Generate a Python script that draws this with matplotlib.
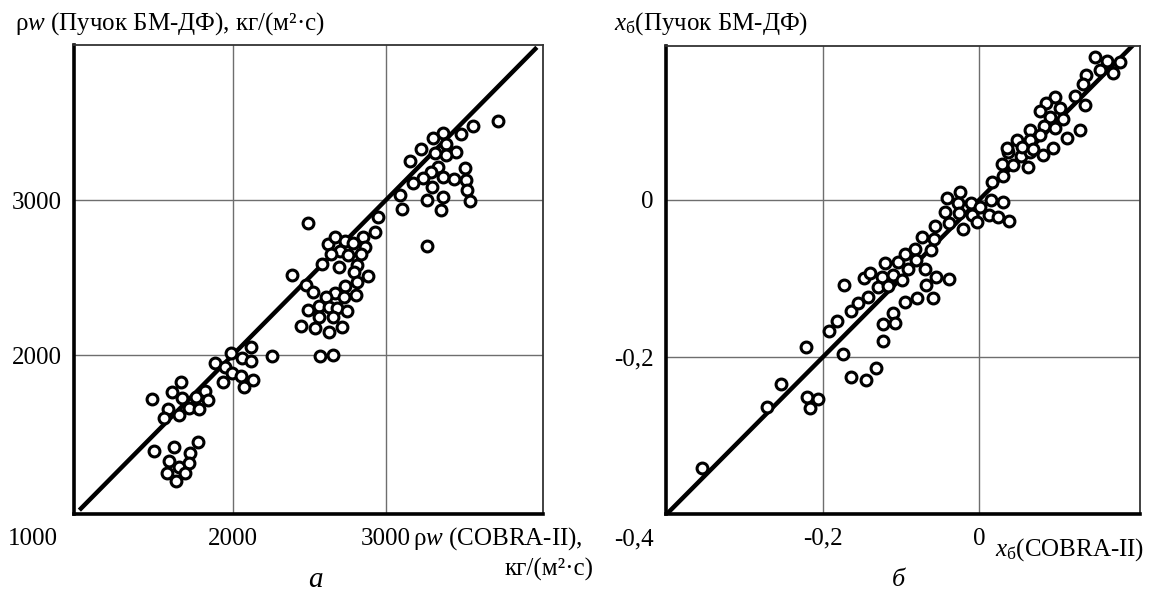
import matplotlib
matplotlib.use('Agg')
import matplotlib.pyplot as plt
import numpy as np

plt.rcParams['font.family'] = ['Liberation Serif', 'DejaVu Serif']
plt.rcParams['mathtext.fontset'] = 'custom'
plt.rcParams['mathtext.rm'] = 'Liberation Serif'
plt.rcParams['mathtext.it'] = 'Liberation Serif:italic'

# panel a: mass flux, kg/(m2 s)
rw_cobra = [1471, 1484, 1606, 1665, 1671, 1581, 1555, 1652, 1716, 1761, 1819, 1781, 1839,
            1619, 1774, 1723, 1587, 1652, 1716, 1574, 1690, 1632, 1884, 1948, 1935, 1987,
            1994, 2058, 2123, 2123, 2052, 2077, 2135, 2258,
            2490, 2387, 2477, 2523, 2581, 2619, 2671, 2735, 2787, 2852, 2865, 2703, 2639,
            2755, 2839, 2813, 2697, 2794, 2813, 2884, 2735, 2671, 2606, 2729, 2806, 2561,
            2626, 2684, 2490, 2748, 2561, 2658, 2445, 2535, 2632, 2716, 2568, 2658, 2929,
            2948, 3103, 3268,
            3729, 3568, 3490, 3374, 3310, 3394, 3458, 3394, 3323, 3232, 3155, 3342, 3516,
            3297, 3239, 3374, 3445, 3523, 3174, 3303, 3529, 3090, 3374, 3271, 3548, 3361]
rw_bundle = [1716, 1381, 1761, 1826, 1723, 1652, 1594, 1613, 1658, 1729, 1768, 1652, 1710,
             1406, 1439, 1368, 1316, 1277, 1303, 1239, 1239, 1187, 1948, 1923, 1826, 2013,
             1884, 1981, 2052, 1961, 1865, 1794, 1839, 1994,
             2852, 2516, 2452, 2406, 2587, 2716, 2761, 2735, 2723, 2761, 2697, 2671, 2652,
             2645, 2652, 2581, 2568, 2535, 2471, 2510, 2445, 2400, 2374, 2374, 2387, 2316,
             2310, 2303, 2290, 2284, 2245, 2245, 2187, 2174, 2148, 2181, 1994, 2000, 2794,
             2890, 2942, 2706,
             3510, 3477, 3426, 3432, 3400, 3361, 3310, 3290, 3303, 3329, 3252, 3213, 3206,
             3181, 3142, 3148, 3135, 3129, 3110, 3084, 3065, 3032, 3019, 3000, 2994, 2935]

# panel b: quality x_b
xb_cobra = [-0.355, -0.272, -0.254, -0.222, -0.221, -0.206, -0.217, -0.192, -0.182, -0.174,
            -0.164, -0.155, -0.164, -0.145, -0.132,
            -0.123, -0.123, -0.110, -0.108, -0.142, -0.095, -0.079, -0.059, -0.173, -0.147,
            -0.140, -0.124, -0.129, -0.117, -0.110, -0.099, -0.121, -0.104, -0.091, -0.095,
            -0.082, -0.081, -0.069, -0.068, -0.055, -0.038, -0.073, -0.058, -0.056, -0.062,
            -0.044, -0.038, -0.041, -0.024, -0.027, -0.026, -0.021, -0.010, -0.009, -0.003,
            0.001, 0.012, 0.015, 0.024, 0.031, 0.038, 0.017, 0.031, 0.029, 0.044, 0.063,
            0.037, 0.053, 0.065,
            0.149, 0.164, 0.181, 0.155, 0.172, 0.137, 0.133, 0.123, 0.135, 0.097, 0.086,
            0.104, 0.078, 0.091, 0.108, 0.083, 0.097, 0.129, 0.112, 0.065, 0.078, 0.065,
            0.049, 0.036, 0.055, 0.069, 0.095, 0.082]
xb_bundle = [-0.341, -0.264, -0.234, -0.187, -0.251, -0.254, -0.265, -0.167, -0.154, -0.196,
             -0.141, -0.131, -0.225, -0.229, -0.214,
             -0.180, -0.158, -0.144, -0.157, -0.124, -0.130, -0.125, -0.125, -0.108, -0.099,
             -0.093, -0.098, -0.111, -0.110, -0.096, -0.102, -0.080, -0.079, -0.088, -0.069,
             -0.062, -0.076, -0.088, -0.108, -0.098, -0.101, -0.047, -0.050, -0.033, -0.064,
             -0.015, -0.029, 0.003, 0.010, -0.004, -0.017, -0.037, -0.004, -0.019, -0.028,
             -0.009, -0.019, 0.000, -0.022, -0.003, -0.027, 0.023, 0.031, 0.046, 0.045, 0.042,
             0.061, 0.056, 0.061,
             0.182, 0.177, 0.176, 0.166, 0.162, 0.159, 0.148, 0.132, 0.121, 0.131, 0.124,
             0.117, 0.113, 0.106, 0.103, 0.094, 0.092, 0.089, 0.079, 0.089, 0.083, 0.076,
             0.076, 0.066, 0.068, 0.065, 0.066, 0.057]

rw_ticks = [2000, 3000]
rw_tick_labels = ['2000', '3000']
xb_ticks = [-0.2, 0.0]
xb_tick_labels = ['-0,2', '0']

FS = 18
W, H = 1153, 596


def style_axes(ax, lim, ticks, labels):
    ax.set_xlim(lim)
    ax.set_ylim(lim)
    ax.set_xticks(ticks)
    ax.set_yticks(ticks)
    ax.set_xticklabels(labels)
    ax.set_yticklabels(labels)
    ax.tick_params(axis='x', length=0, labelsize=FS, pad=10)
    ax.tick_params(axis='y', length=0, labelsize=FS, pad=9)
    ax.grid(True, color='#6e6e6e', linewidth=1.0)
    ax.set_axisbelow(True)
    for side in ['left', 'bottom']:
        ax.spines[side].set_linewidth(2.6)
        ax.spines[side].set_color('black')
    for side in ['top', 'right']:
        ax.spines[side].set_linewidth(1.3)
        ax.spines[side].set_color('#333333')


def draw_points(ax, xs, ys, line):
    ax.plot(line, line, color='black', linewidth=3.2, solid_capstyle='butt', zorder=2)
    ax.plot(xs, ys, linestyle='none', marker='o', markersize=7.8, markeredgewidth=2.2,
            markeredgecolor='black', markerfacecolor='white', zorder=3)


fig = plt.figure(figsize=(W / 100, H / 100), dpi=100)

# panel a
ax1 = fig.add_axes([74 / W, 1 - 514 / H, (543 - 74) / W, (514 - 45) / H])
style_axes(ax1, (965, 4025), rw_ticks, rw_tick_labels)
ax1.set_ylim(975, 4000)
draw_points(ax1, rw_cobra, rw_bundle, [1000, 3985])

# panel b
ax2 = fig.add_axes([666 / W, 1 - 514 / H, (1140 - 666) / W, (514 - 46) / H])
style_axes(ax2, (-0.401, 0.206), xb_ticks, xb_tick_labels)
ax2.set_ylim(-0.4, 0.196)
draw_points(ax2, xb_cobra, xb_bundle, [-0.4, 0.198])


def ftext(x, y, s, **kw):
    fig.text(x / W, 1 - y / H, s, **kw)


# titles of the vertical axes
ftext(15, 24, 'ρ$w$ (Пучок БМ-ДФ), кг/(м²·с)', fontsize=FS, va='center', ha='left')
ftext(614, 24, r'$x_{\mathrm{б}}$(Пучок БМ-ДФ)', fontsize=FS, va='center', ha='left')

# corner labels
ftext(33, 539, '1000', fontsize=FS, va='center', ha='center')
ftext(634, 539, '-0,4', fontsize=FS, va='center', ha='center')

# horizontal axis titles
ftext(413, 539, 'ρ$w$ (COBRA-II),', fontsize=FS, va='center', ha='left')
ftext(594, 569, 'кг/(м²·с)', fontsize=FS, va='center', ha='right')
ftext(995, 550, r'$x_{\mathrm{б}}$(COBRA-II)', fontsize=FS, va='center', ha='left')

# panel captions
ftext(315, 580, 'а', fontsize=21, style='italic', va='center', ha='center')
ftext(898, 580, 'б', fontsize=19, style='italic', va='center', ha='center')

fig.savefig('out.png', dpi=100, facecolor='white')
